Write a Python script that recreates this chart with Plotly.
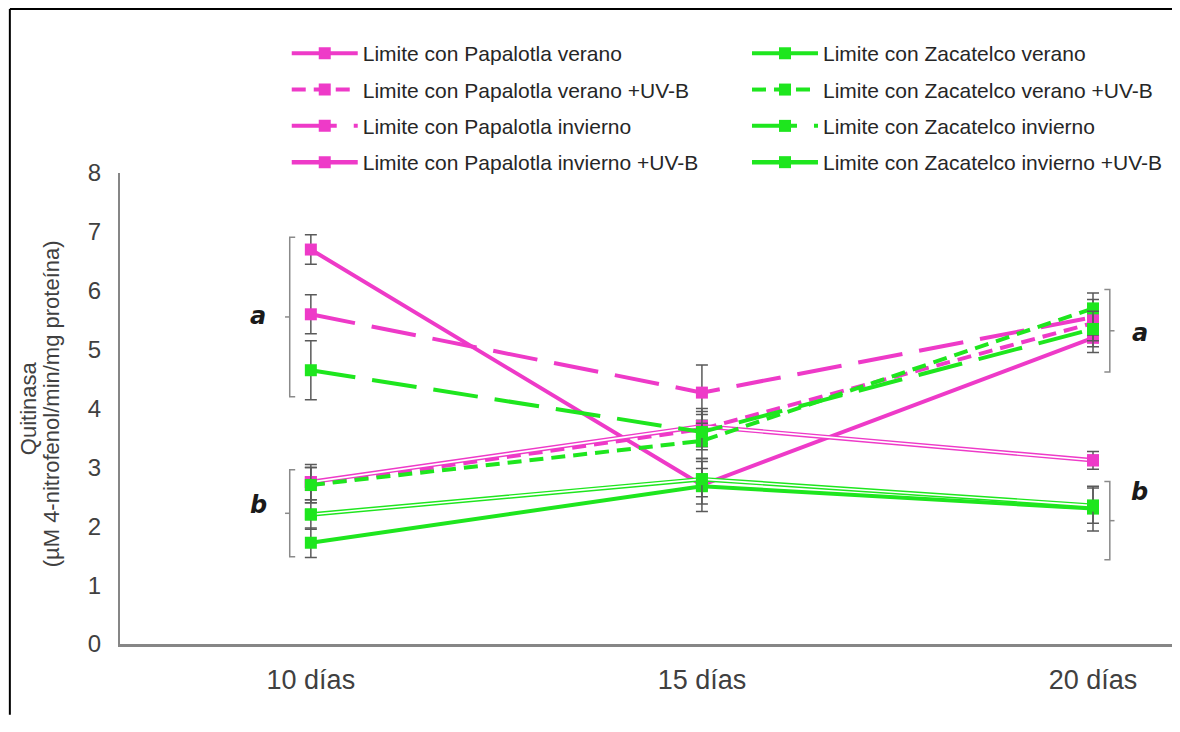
import plotly.graph_objects as go

# ---------------- data ----------------
categories = ["10 días", "15 días", "20 días"]
cat_pos = [0, 1, 2]

pap_verano = [6.70, 2.70, 5.20]
pap_verano_err = [0.25, 0.45, 0.25]
pap_verano_uvb = [2.70, 3.65, 5.45]
pap_verano_uvb_err = [0.30, 0.30, 0.30]
pap_invierno = [5.60, 4.27, 5.55]
pap_invierno_err = [0.33, 0.47, 0.30]
pap_invierno_uvb = [2.75, 3.70, 3.12]
pap_invierno_uvb_err = [0.30, 0.30, 0.15]

zac_verano = [1.72, 2.68, 2.30]
zac_verano_err = [0.25, 0.30, 0.38]
zac_verano_uvb = [2.70, 3.45, 5.70]
zac_verano_uvb_err = [0.30, 0.30, 0.26]
zac_invierno = [4.65, 3.60, 5.35]
zac_invierno_err = [0.50, 0.30, 0.30]
zac_invierno_uvb = [2.20, 2.80, 2.35]
zac_invierno_uvb_err = [0.25, 0.30, 0.30]

y_ticks = [0, 1, 2, 3, 4, 5, 6, 7, 8]

# significance letters
letters_x = [-0.135, -0.135, 2.12, 2.12]
letters_y = [5.57, 2.36, 5.28, 2.58]
letters_txt = ["a", "b", "a", "b"]

# brackets
brackets_x = [-0.054, -0.054, 2.043, 2.043]
brackets_top = [6.91, 2.96, 6.02, 2.76]
brackets_bot = [4.20, 1.48, 4.62, 1.43]
brackets_side = [1, 1, -1, -1]

# ---------------- styles ----------------
PINK = "#EE3AC8"
GREEN = "#1EE61E"
ERR = "#5A5A5A"
FONT = "Liberation Sans, Arial, sans-serif"
LW = 4
LONG = "45px,17px"
SHORT = "14px,8px"

series = [
    ("Limite con Papalotla verano", pap_verano, pap_verano_err, PINK, "solid", False, "legend"),
    ("Limite con Papalotla verano +UV-B", pap_verano_uvb, pap_verano_uvb_err, PINK, SHORT, False, "legend"),
    ("Limite con Papalotla invierno", pap_invierno, pap_invierno_err, PINK, LONG, False, "legend"),
    ("Limite con Papalotla invierno +UV-B", pap_invierno_uvb, pap_invierno_uvb_err, PINK, "solid", True, "legend"),
    ("Limite con Zacatelco verano", zac_verano, zac_verano_err, GREEN, "solid", False, "legend2"),
    ("Limite con Zacatelco verano +UV-B", zac_verano_uvb, zac_verano_uvb_err, GREEN, SHORT, False, "legend2"),
    ("Limite con Zacatelco invierno", zac_invierno, zac_invierno_err, GREEN, LONG, False, "legend2"),
    ("Limite con Zacatelco invierno +UV-B", zac_invierno_uvb, zac_invierno_uvb_err, GREEN, "solid", True, "legend2"),
]

fig = go.Figure()

for name, vals, err, col, dash, double, lg in series:
    if double:
        fig.add_trace(go.Scatter(
            x=cat_pos, y=vals, name=name, mode="lines+markers",
            line=dict(color=col, width=4.5),
            marker=dict(symbol="square", size=12, color=col),
            legend=lg, legendgroup=name,
        ))
        fig.add_trace(go.Scatter(
            x=cat_pos, y=vals, mode="lines", showlegend=False, hoverinfo="skip",
            line=dict(color="white", width=1.6), legend=lg,
        ))
        fig.add_trace(go.Scatter(
            x=cat_pos, y=vals, mode="markers", showlegend=False,
            marker=dict(symbol="square", size=12, color=col),
            error_y=dict(type="data", array=err, color=ERR, thickness=1.5, width=6),
            legend=lg,
        ))
    else:
        fig.add_trace(go.Scatter(
            x=cat_pos, y=vals, name=name, mode="lines+markers",
            line=dict(color=col, width=LW, dash=dash),
            marker=dict(symbol="square", size=12, color=col),
            error_y=dict(type="data", array=err, color=ERR, thickness=1.5, width=6),
            legend=lg, legendgroup=name,
        ))

for lx, ly, lt in zip(letters_x, letters_y, letters_txt):
    fig.add_annotation(x=lx, y=ly, xref="x", yref="y", text=f"<b><i>{lt}</i></b>",
                       showarrow=False, font=dict(family="DejaVu Sans", size=24, color="#1a1a1a"))

SERIF = 0.014
TICK = 0.012
for bx, bt, bb, bs in zip(brackets_x, brackets_top, brackets_bot, brackets_side):
    path = f"M {bx + bs*SERIF},{bt} L {bx},{bt} L {bx},{bb} L {bx + bs*SERIF},{bb}"
    fig.add_shape(type="path", path=path, xref="x", yref="y",
                  line=dict(color="#8a8a8a", width=1.5))
    ym = (bt + bb) / 2
    fig.add_shape(type="line", x0=bx, x1=bx - bs*TICK, y0=ym, y1=ym, xref="x", yref="y",
                  line=dict(color="#8a8a8a", width=1.5))

# outer frame (top and left edges)
FX = -0.1047
FY = 1.3482
fig.add_shape(type="line", xref="paper", yref="paper", x0=FX, x1=1.0, y0=FY, y1=FY,
              line=dict(color="black", width=2))
fig.add_shape(type="line", xref="paper", yref="paper", x0=FX, x1=FX, y0=FY, y1=-0.15,
              line=dict(color="black", width=2))

# y-axis title (two lines)
fig.add_annotation(xref="paper", yref="paper", x=-0.0868, y=0.5, xanchor="center", yanchor="middle",
                   text="Quitinasa", textangle=-90, showarrow=False,
                   font=dict(family=FONT, size=22, color="#404040"))
fig.add_annotation(xref="paper", yref="paper", x=-0.0651, y=0.51, xanchor="center", yanchor="middle",
                   text="(µM 4-nitrofenol/min/mg proteína)", textangle=-90, showarrow=False,
                   font=dict(family=FONT, size=22, color="#404040"))

legend_common = dict(
    orientation="v", xanchor="left", yanchor="top", bgcolor="rgba(0,0,0,0)",
    font=dict(family=FONT, size=21, color="#262626"),
    itemwidth=66, tracegroupgap=6, traceorder="grouped", itemclick=False,
)

fig.update_layout(
    width=1164, height=716,
    margin=dict(l=112, r=0, t=165, b=80),
    paper_bgcolor="white", plot_bgcolor="white",
    font=dict(family=FONT, color="#404040"),
    showlegend=True,
    legend=dict(x=0.1585, y=1.297, **legend_common),
    legend2=dict(x=0.5960, y=1.297, **legend_common),
    xaxis=dict(
        range=[-0.488, 2.202], tickvals=cat_pos, ticktext=categories,
        showline=True, linecolor="#868686", linewidth=2.5, showgrid=False, zeroline=False,
        ticks="", tickfont=dict(size=27, color="#404040", family=FONT), ticklabelstandoff=10,
    ),
    yaxis=dict(
        range=[0, 8], tickvals=y_ticks, showline=True, linecolor="#868686", linewidth=2,
        showgrid=False, zeroline=False, ticks="",
        tickfont=dict(size=24, color="#404040", family=FONT), ticklabelstandoff=12,
    ),
)

fig.write_html("out.html")
